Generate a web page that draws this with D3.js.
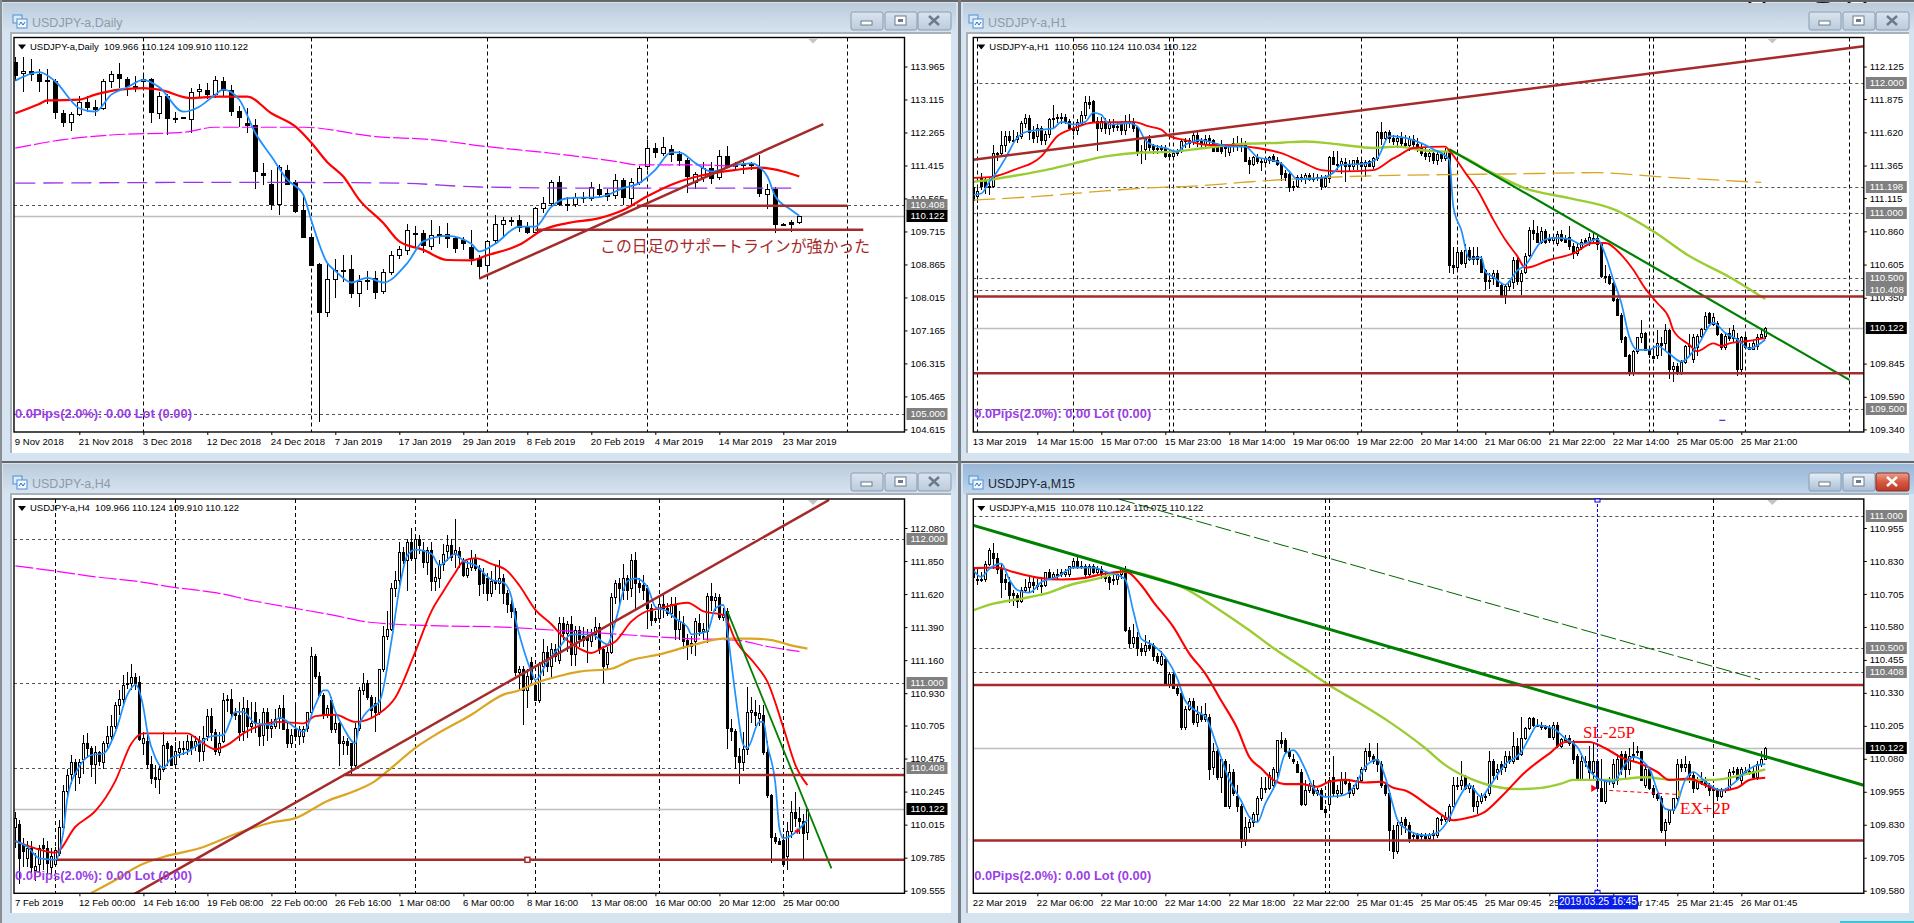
<!DOCTYPE html>
<html><head><meta charset="utf-8"><style>html,body{margin:0;padding:0;background:#d6e3f0;overflow:hidden}svg{display:block}</style>
<script src="https://cdnjs.cloudflare.com/ajax/libs/d3/7.8.5/d3.min.js"></script></head><body><svg id="c" width="1914" height="923"></svg>
<script>
const dailyBars=[[114.08,114.2,113.6,113.75],[113.8,114.2,113.3,113.85],[113.85,114.15,113.6,113.78],[113.78,113.9,113.3,113.6],[113.63,113.9,113.0,113.58],[113.6,113.65,112.62,112.78],[112.77,112.85,112.4,112.53],[112.53,112.8,112.3,112.74],[112.74,113.2,112.7,113.06],[113.06,113.2,112.8,112.93],[112.92,113.1,112.7,112.88],[112.9,113.65,112.85,113.6],[113.6,113.85,113.42,113.78],[113.78,114.05,113.42,113.68],[113.65,113.7,113.2,113.46],[113.47,113.72,113.3,113.43],[113.6,113.75,113.4,113.65],[113.64,113.66,112.5,112.78],[112.76,113.3,112.6,113.2],[113.2,113.25,112.2,112.64],[112.65,112.8,112.5,112.62],[112.67,112.67,112.66,112.66],[112.6,113.4,112.25,113.32],[113.33,113.52,113.18,113.38],[113.37,113.54,113.14,113.25],[113.25,113.72,113.15,113.62],[113.58,113.7,113.2,113.35],[113.36,113.5,112.7,112.83],[112.83,112.95,112.4,112.67],[112.5,112.9,112.25,112.47],[112.46,112.6,110.82,111.27],[111.22,111.48,110.9,111.18],[110.93,111.3,110.27,110.43],[110.43,111.42,110.13,111.37],[111.3,111.42,110.9,110.95],[111.0,111.05,110.2,110.23],[110.27,110.6,109.55,109.56],[109.57,109.6,108.85,108.86],[108.88,108.9,104.8,107.65],[107.65,108.9,107.5,108.48],[108.48,109.0,108.0,108.73],[108.73,109.1,108.4,108.72],[108.74,109.1,108.0,108.14],[108.13,108.6,107.78,108.43],[108.43,108.7,108.2,108.47],[108.52,108.7,107.98,108.16],[108.17,108.75,108.1,108.68],[108.68,109.2,108.6,109.1],[109.1,109.35,109.0,109.26],[109.25,109.9,109.1,109.76],[109.68,109.85,109.3,109.67],[109.67,109.75,109.15,109.37],[109.35,110.0,109.25,109.62],[109.62,109.85,109.4,109.65],[109.65,109.93,109.3,109.55],[109.55,109.6,109.15,109.3],[109.5,109.58,109.25,109.43],[109.32,109.74,108.85,109.03],[109.03,109.1,108.5,108.83],[108.85,109.5,108.7,109.47],[109.5,110.15,109.4,109.9],[109.9,110.1,109.6,110.0],[110.0,110.1,109.85,110.0],[110.0,110.15,109.7,109.82],[109.84,109.95,109.65,109.7],[109.7,110.35,109.67,110.32],[110.32,110.6,110.2,110.45],[110.45,111.05,110.35,110.99],[110.98,111.15,110.38,110.43],[110.43,110.6,110.23,110.42],[110.42,110.7,110.35,110.6],[110.6,110.72,110.45,110.59],[110.58,111.0,110.5,110.85],[110.82,110.95,110.6,110.68],[110.7,110.8,110.5,110.63],[110.65,111.2,110.55,111.05],[111.05,111.1,110.4,110.6],[110.58,111.1,110.4,111.0],[111.0,111.4,110.9,111.35],[111.39,112.08,111.3,111.86],[111.86,112.0,111.6,111.75],[111.73,112.15,111.65,111.89],[111.85,111.95,111.5,111.72],[111.72,111.8,111.4,111.55],[111.55,111.6,110.7,111.15],[111.0,111.25,110.8,111.2],[111.13,111.5,111.0,111.34],[111.34,111.5,110.95,111.08],[111.12,111.82,111.05,111.66],[111.66,111.92,111.4,111.41],[111.4,111.5,111.3,111.42],[111.45,111.55,111.2,111.42],[111.45,111.5,111.3,111.42],[111.38,111.69,110.6,110.7],[110.68,110.95,110.3,110.82],[110.8,110.85,109.68,109.9],[109.9,109.92,109.88,109.9],[109.95,110.0,109.7,109.9],[109.966,110.124,109.91,110.122]];
const dailyBlue=[[0,113.6],[3,113.82],[5,113.58],[8,112.89],[10,112.8],[12,113.24],[14,113.43],[16,113.62],[18,113.43],[21,112.8],[23,112.93],[25,113.24],[26,113.37],[28,113.11],[30,112.25],[32,111.65],[34,111.05],[36,110.66],[37,110.0],[39,108.9],[40,108.7],[42,108.4],[44,108.52],[46,108.4],[49,108.9],[51,109.46],[54,109.6],[57,109.4],[58,109.2],[60,109.4],[63,109.84],[65,109.84],[67,110.35],[69,110.57],[73,110.6],[76,110.83],[78,110.96],[80,111.3],[82,111.75],[83,111.75],[85,111.48],[87,111.26],[90,111.43],[92,111.47],[94,111.13],[95,110.62],[97,110.27],[98,110.12]];
const dailyRed=[[0,112.76],[3,113.0],[4,113.09],[8,113.11],[10,113.24],[13,113.37],[16,113.41],[18,113.37],[22,113.15],[25,113.19],[29,113.19],[32,112.76],[35,112.42],[37,112.0],[39,111.5],[41,111.13],[43,110.53],[46,109.93],[48,109.46],[51,109.24],[54,108.98],[57,108.97],[59,109.1],[63,109.37],[66,109.76],[69,109.93],[73,110.06],[76,110.27],[79,110.62],[82,110.92],[86,111.17],[90,111.3],[93,111.36],[96,111.26],[98,111.13]];
const dailyMagenta=[[0,111.86],[6,112.08],[12,112.2],[21,112.27],[25,112.4],[36,112.4],[45,112.16],[52,112.08],[59,111.9],[67,111.73],[75,111.52],[78,111.43],[85,111.43],[90,111.39]];
const dailyPurple=[[0,110.96],[29,110.98],[48,110.96],[58,110.86],[75,110.83],[98,110.83]];
const dailyTrend=[[58,108.5],[101,112.48]];
const dailySupport1=[[77.7,110.38],[104,110.38]];
const dailySupport2=[[65,109.76],[106,109.76]];

const h4Bars=[[110.0,110.1,109.85,110.06],[110.02,110.05,109.6,109.78],[109.88,109.92,109.72,109.83],[109.78,109.9,109.72,109.85],[109.85,109.9,109.68,109.72],[109.7,109.82,109.62,109.73],[109.74,109.87,109.68,109.85],[109.87,109.92,109.7,109.85],[109.85,109.9,109.67,109.75],[109.72,109.85,109.66,109.8],[109.74,109.86,109.72,109.84],[109.82,110.05,109.8,110.0],[110.0,110.29,109.95,110.25],[110.25,110.4,110.2,110.36],[110.37,110.5,110.3,110.45],[110.45,110.47,110.25,110.37],[110.35,110.47,110.3,110.45],[110.47,110.64,110.37,110.58],[110.58,110.65,110.48,110.55],[110.55,110.56,110.35,110.44],[110.44,110.56,110.3,110.52],[110.52,110.53,110.42,110.46],[110.45,110.6,110.4,110.58],[110.58,110.7,110.55,110.63],[110.63,110.78,110.6,110.7],[110.7,110.87,110.68,110.85],[110.85,110.95,110.78,110.89],[110.89,111.06,110.85,110.99],[111.0,111.08,110.96,111.0],[111.0,111.13,110.95,111.04],[111.04,111.07,110.95,111.0],[111.01,111.05,110.6,110.61],[110.58,110.66,110.5,110.62],[110.6,110.65,110.4,110.44],[110.44,110.49,110.3,110.34],[110.35,110.43,110.27,110.33],[110.33,110.42,110.23,110.4],[110.4,110.66,110.38,110.57],[110.58,110.6,110.42,110.55],[110.56,110.57,110.42,110.43],[110.44,110.59,110.41,110.53],[110.52,110.6,110.48,110.55],[110.55,110.6,110.5,110.54],[110.54,110.64,110.5,110.6],[110.6,110.63,110.5,110.55],[110.56,110.63,110.53,110.6],[110.6,110.63,110.45,110.53],[110.53,110.7,110.46,110.62],[110.63,110.82,110.6,110.77],[110.77,110.83,110.6,110.66],[110.66,110.68,110.5,110.53],[110.52,110.66,110.49,110.58],[110.6,110.93,110.58,110.88],[110.88,110.92,110.8,110.89],[110.89,110.96,110.76,110.79],[110.79,110.83,110.74,110.78],[110.78,110.87,110.6,110.66],[110.67,110.9,110.6,110.83],[110.83,110.88,110.62,110.7],[110.7,110.87,110.65,110.72],[110.8,110.87,110.65,110.72],[110.7,110.75,110.56,110.63],[110.64,110.83,110.56,110.8],[110.8,110.83,110.6,110.69],[110.69,110.75,110.62,110.7],[110.7,110.82,110.68,110.75],[110.76,110.85,110.68,110.83],[110.83,110.92,110.68,110.68],[110.68,110.72,110.55,110.58],[110.58,110.68,110.55,110.64],[110.68,110.86,110.6,110.63],[110.63,110.7,110.57,110.68],[110.63,110.7,110.58,110.68],[110.69,110.8,110.66,110.8],[110.8,111.25,110.78,111.19],[111.19,111.2,111.03,111.05],[111.05,111.08,110.9,110.92],[110.92,110.93,110.75,110.78],[110.78,110.85,110.76,110.83],[110.88,110.9,110.65,110.68],[110.68,110.78,110.65,110.72],[110.72,110.73,110.42,110.58],[110.58,110.63,110.5,110.6],[110.6,110.62,110.5,110.57],[110.58,110.58,110.36,110.43],[110.43,110.72,110.4,110.69],[110.69,110.97,110.67,110.95],[110.95,111.07,110.92,111.0],[111.0,111.02,110.88,110.9],[110.9,110.92,110.75,110.81],[110.86,110.9,110.66,110.8],[110.8,111.1,110.78,111.1],[111.1,111.4,111.08,111.33],[111.33,111.5,111.3,111.38],[111.38,111.7,111.36,111.66],[111.66,111.78,111.6,111.72],[111.72,111.98,111.65,111.91],[111.91,111.95,111.83,111.86],[111.86,112.0,111.64,111.98],[111.98,112.08,111.85,111.87],[111.87,112.02,111.76,112.0],[112.0,112.03,111.9,111.96],[111.93,111.98,111.8,111.84],[111.84,111.95,111.75,111.93],[111.93,111.98,111.64,111.71],[111.71,111.8,111.64,111.74],[111.73,111.86,111.66,111.83],[111.83,111.97,111.78,111.9],[111.92,112.03,111.85,111.96],[111.96,112.0,111.85,111.88],[111.9,112.14,111.8,111.93],[111.92,111.95,111.8,111.88],[111.84,111.87,111.74,111.75],[111.75,111.85,111.73,111.8],[111.81,111.93,111.78,111.87],[111.87,111.9,111.78,111.8],[111.8,111.82,111.61,111.69],[111.77,111.8,111.62,111.7],[111.73,111.77,111.57,111.63],[111.63,111.78,111.6,111.71],[111.72,111.82,111.65,111.7],[111.7,111.86,111.62,111.73],[111.73,111.76,111.55,111.63],[111.63,111.65,111.49,111.55],[111.55,111.58,111.45,111.5],[111.5,111.52,111.05,111.08],[111.08,111.12,110.95,111.1],[111.1,111.12,110.71,110.95],[110.95,111.1,110.83,111.05],[111.15,111.18,111.0,111.03],[110.99,111.02,110.88,110.88],[110.88,111.15,110.86,111.13],[111.12,111.31,111.05,111.22],[111.22,111.26,111.08,111.12],[111.12,111.28,111.03,111.24],[111.24,111.27,111.15,111.19],[111.16,111.46,111.13,111.42],[111.42,111.46,111.3,111.35],[111.35,111.43,111.22,111.41],[111.41,111.47,111.12,111.2],[111.2,111.4,111.12,111.37],[111.37,111.4,111.25,111.31],[111.33,111.39,111.25,111.3],[111.32,111.38,111.14,111.3],[111.29,111.38,111.25,111.34],[111.34,111.46,111.3,111.39],[111.39,111.42,111.2,111.24],[111.24,111.26,111.0,111.12],[111.13,111.25,111.1,111.22],[111.22,111.63,111.2,111.6],[111.6,111.72,111.55,111.7],[111.7,111.73,111.55,111.66],[111.65,111.83,111.58,111.73],[111.73,111.75,111.58,111.65],[111.66,111.9,111.6,111.86],[111.86,111.91,111.5,111.7],[111.7,111.73,111.63,111.67],[111.68,111.75,111.58,111.65],[111.66,111.68,111.38,111.52],[111.52,111.55,111.4,111.44],[111.45,111.5,111.42,111.44],[111.45,111.6,111.42,111.55],[111.55,111.62,111.45,111.52],[111.52,111.56,111.47,111.49],[111.49,111.6,111.45,111.55],[111.55,111.6,111.3,111.38],[111.38,111.5,111.3,111.43],[111.42,111.47,111.24,111.29],[111.3,111.34,111.16,111.26],[111.26,111.33,111.2,111.28],[111.29,111.45,111.19,111.43],[111.42,111.48,111.33,111.36],[111.36,111.42,111.3,111.38],[111.36,111.63,111.28,111.61],[111.61,111.7,111.5,111.58],[111.58,111.63,111.5,111.6],[111.6,111.62,111.44,111.46],[111.46,111.52,111.43,111.48],[111.5,111.52,110.54,110.69],[110.69,110.75,110.6,110.67],[110.67,110.68,110.4,110.49],[110.49,110.55,110.3,110.45],[110.45,110.66,110.39,110.54],[110.54,110.97,110.5,110.8],[110.8,110.9,110.72,110.81],[110.8,110.88,110.7,110.78],[110.76,110.85,110.7,110.79],[110.78,110.85,110.5,110.52],[110.52,110.6,110.2,110.22],[110.22,110.23,109.75,109.93],[109.93,109.96,109.88,109.9],[109.9,109.92,109.87,109.88],[109.91,109.95,109.72,109.74],[109.8,110.03,109.7,109.97],[109.97,110.18,109.92,110.1],[110.1,110.24,110.0,110.06],[110.06,110.14,109.95,110.04],[110.04,110.09,109.76,109.96],[109.966,110.124,109.91,110.122]];
const h4Blue=[[0,109.9],[3,109.86],[6,109.78],[10,109.77],[12,109.97],[13,110.2],[16,110.42],[19,110.5],[22,110.51],[25,110.66],[28,110.92],[30,110.99],[32,110.83],[33,110.66],[35,110.48],[37,110.41],[39,110.48],[43,110.52],[46,110.58],[49,110.63],[52,110.64],[55,110.8],[57,110.8],[60,110.72],[64,110.71],[66,110.76],[70,110.69],[72,110.66],[75,110.85],[77,110.95],[78,110.95],[80,110.8],[82,110.69],[85,110.58],[86,110.71],[89,110.83],[91,110.87],[94,111.29],[96,111.66],[98,111.89],[100,111.93],[104,111.9],[106,111.82],[110,111.9],[112,111.85],[115,111.82],[119,111.72],[122,111.7],[124,111.6],[125,111.45],[127,111.24],[129,111.08],[130,111.02],[133,111.15],[136,111.25],[139,111.34],[141,111.34],[144,111.34],[148,111.27],[150,111.43],[153,111.71],[155,111.73],[158,111.67],[160,111.53],[163,111.5],[165,111.45],[168,111.39],[169,111.34],[173,111.36],[175,111.52],[177,111.545],[178,111.36],[180,110.92],[182,110.57],[183,110.55],[186,110.73],[187,110.73],[188,110.57],[190,110.3],[191,109.99],[192,109.92],[195,109.96],[198,110.05]];
const h4Red=[[0,109.9],[5,109.85],[10,109.82],[15,110.0],[20,110.11],[25,110.32],[29,110.58],[32,110.65],[43,110.65],[46,110.6],[50,110.54],[53,110.57],[57,110.65],[66,110.73],[72,110.72],[75,110.77],[80,110.78],[85,110.73],[91,110.79],[95,110.9],[100,111.22],[104,111.5],[107,111.64],[110,111.77],[112,111.85],[115,111.87],[119,111.83],[123,111.78],[126,111.68],[130,111.51],[134,111.41],[137,111.32],[141,111.24],[144,111.21],[147,111.25],[150,111.29],[154,111.43],[157,111.49],[161,111.52],[168,111.56],[172,111.5],[177,111.475],[180,111.3],[185,111.13],[188,111.01],[192,110.69],[195,110.43],[198,110.29]];
const h4Gold=[[19,109.54],[25,109.63],[31,109.73],[37,109.79],[46,109.85],[56,109.96],[64,110.03],[70,110.06],[78,110.18],[85,110.25],[90,110.32],[94,110.41],[100,110.55],[105,110.64],[114,110.78],[122,110.92],[126,110.95],[130,111.0],[136,111.05],[141,111.08],[149,111.1],[154,111.16],[161,111.2],[170,111.27],[177,111.31],[184,111.31],[189,111.3],[193,111.27],[198,111.24]];
const h4Magenta=[[0,111.816],[10,111.78],[20,111.74],[30,111.71],[40,111.665],[50,111.63],[60,111.57],[70,111.52],[80,111.47],[87,111.43],[95,111.41],[104,111.4],[122,111.39],[134,111.37],[151,111.34],[168,111.31],[180,111.3],[188,111.255],[196,111.22]];
const h4Trend=[[29.6,109.53],[203.4,112.275]];
const h4Green=[[178,111.5],[204,109.71]];
const h4Support1=[[82,110.36],[230,110.36]];
const h4Support2=[[10.4,109.77],[230,109.77]];

const h1Bars=[[111.2,111.23,111.1,111.1],[111.13,111.2,111.08,111.17],[111.27,111.31,111.18,111.21],[111.26,111.28,111.15,111.2],[111.21,111.27,111.14,111.2],[111.21,111.52,111.19,111.46],[111.45,111.47,111.4,111.46],[111.46,111.63,111.43,111.52],[111.52,111.63,111.47,111.59],[111.59,111.63,111.54,111.56],[111.56,111.64,111.53,111.55],[111.57,111.62,111.54,111.59],[111.59,111.71,111.57,111.69],[111.69,111.76,111.65,111.73],[111.73,111.75,111.56,111.62],[111.62,111.67,111.54,111.58],[111.59,111.68,111.54,111.65],[111.65,111.67,111.52,111.56],[111.56,111.63,111.52,111.61],[111.61,111.73,111.58,111.72],[111.72,111.83,111.65,111.73],[111.74,111.76,111.69,111.73],[111.74,111.77,111.68,111.73],[111.74,111.76,111.68,111.71],[111.71,111.72,111.64,111.65],[111.65,111.67,111.6,111.64],[111.64,111.72,111.6,111.7],[111.69,111.78,111.67,111.75],[111.75,111.9,111.72,111.85],[111.85,111.9,111.8,111.84],[111.86,111.87,111.7,111.71],[111.71,111.74,111.48,111.65],[111.65,111.74,111.62,111.71],[111.71,111.73,111.61,111.65],[111.65,111.72,111.6,111.7],[111.68,111.72,111.62,111.66],[111.67,111.7,111.63,111.66],[111.69,111.71,111.6,111.64],[111.64,111.75,111.6,111.71],[111.71,111.76,111.65,111.69],[111.7,111.73,111.62,111.65],[111.66,111.67,111.44,111.48],[111.48,111.52,111.38,111.47],[111.49,111.58,111.41,111.57],[111.57,111.6,111.48,111.51],[111.52,111.53,111.45,111.49],[111.5,111.52,111.45,111.49],[111.5,111.52,111.46,111.49],[111.5,111.52,111.42,111.44],[111.45,111.47,111.41,111.44],[111.44,111.48,111.42,111.46],[111.47,111.49,111.44,111.47],[111.48,111.56,111.46,111.55],[111.55,111.58,111.5,111.56],[111.56,111.58,111.5,111.54],[111.55,111.63,111.52,111.6],[111.6,111.62,111.51,111.55],[111.55,111.58,111.49,111.53],[111.53,111.6,111.5,111.57],[111.58,111.6,111.53,111.56],[111.56,111.57,111.48,111.48],[111.52,111.54,111.47,111.48],[111.53,111.56,111.45,111.48],[111.51,111.53,111.43,111.5],[111.47,111.52,111.44,111.52],[111.52,111.58,111.47,111.54],[111.53,111.59,111.48,111.52],[111.52,111.58,111.47,111.54],[111.53,111.55,111.4,111.4],[111.41,111.43,111.3,111.38],[111.38,111.44,111.36,111.43],[111.43,111.45,111.38,111.4],[111.4,111.42,111.32,111.39],[111.39,111.43,111.37,111.42],[111.41,111.44,111.38,111.43],[111.44,111.45,111.39,111.4],[111.41,111.43,111.36,111.38],[111.38,111.39,111.25,111.3],[111.31,111.33,111.25,111.28],[111.3,111.32,111.16,111.2],[111.2,111.25,111.17,111.21],[111.21,111.29,111.19,111.28],[111.28,111.3,111.24,111.27],[111.27,111.31,111.22,111.29],[111.29,111.31,111.25,111.26],[111.27,111.31,111.24,111.27],[111.27,111.3,111.25,111.28],[111.27,111.29,111.18,111.21],[111.21,111.29,111.19,111.27],[111.27,111.44,111.23,111.43],[111.43,111.48,111.37,111.38],[111.38,111.48,111.33,111.37],[111.38,111.42,111.3,111.4],[111.39,111.42,111.24,111.36],[111.37,111.41,111.32,111.36],[111.36,111.41,111.33,111.41],[111.41,111.43,111.33,111.38],[111.39,111.41,111.33,111.36],[111.36,111.41,111.28,111.39],[111.4,111.41,111.35,111.36],[111.36,111.43,111.34,111.42],[111.42,111.63,111.4,111.62],[111.62,111.7,111.52,111.58],[111.58,111.63,111.55,111.62],[111.62,111.64,111.54,111.58],[111.58,111.6,111.52,111.55],[111.55,111.6,111.5,111.58],[111.58,111.62,111.5,111.54],[111.54,111.6,111.5,111.52],[111.52,111.59,111.48,111.57],[111.57,111.6,111.5,111.53],[111.53,111.58,111.47,111.51],[111.51,111.54,111.44,111.46],[111.46,111.5,111.41,111.44],[111.44,111.49,111.39,111.46],[111.46,111.49,111.38,111.41],[111.41,111.47,111.37,111.45],[111.45,111.48,111.39,111.42],[111.42,111.5,111.4,111.48],[111.48,111.49,110.54,110.6],[110.6,110.74,110.53,110.59],[110.59,110.74,110.55,110.7],[110.7,110.72,110.6,110.62],[110.62,110.76,110.58,110.72],[110.72,110.74,110.63,110.65],[110.67,110.74,110.6,110.65],[110.67,110.74,110.6,110.65],[110.65,110.67,110.54,110.55],[110.56,110.57,110.41,110.48],[110.48,110.54,110.42,110.49],[110.5,110.56,110.45,110.54],[110.54,110.56,110.43,110.44],[110.45,110.46,110.35,110.37],[110.37,110.45,110.3,110.44],[110.44,110.49,110.4,110.48],[110.47,110.66,110.42,110.64],[110.64,110.67,110.45,110.48],[110.48,110.56,110.37,110.54],[110.55,110.69,110.53,110.67],[110.68,110.89,110.66,110.87],[110.87,110.95,110.79,110.85],[110.85,110.9,110.77,110.78],[110.78,110.89,110.76,110.86],[110.86,110.88,110.76,110.78],[110.8,110.84,110.77,110.8],[110.79,110.83,110.78,110.82],[110.77,110.86,110.75,110.84],[110.84,110.87,110.78,110.79],[110.81,110.83,110.77,110.78],[110.82,110.9,110.72,110.75],[110.75,110.77,110.65,110.69],[110.69,110.77,110.67,110.74],[110.74,110.8,110.72,110.78],[110.79,110.81,110.76,110.78],[110.78,110.85,110.75,110.82],[110.81,110.85,110.78,110.8],[110.81,110.83,110.72,110.76],[110.76,110.77,110.5,110.52],[110.52,110.6,110.46,110.51],[110.52,110.53,110.45,110.46],[110.46,110.47,110.32,110.33],[110.34,110.35,110.22,110.22],[110.22,110.23,110.0,110.03],[110.05,110.06,109.9,109.9],[109.91,109.92,109.75,109.77],[109.77,109.95,109.75,109.94],[109.94,110.05,109.92,110.05],[110.05,110.18,110.0,110.08],[110.08,110.09,109.95,109.95],[109.96,109.97,109.89,109.92],[109.9,109.98,109.88,109.89],[109.91,110.1,109.88,110.0],[110.0,110.05,109.9,109.99],[110.0,110.15,109.95,110.1],[110.1,110.11,109.73,109.8],[109.8,109.86,109.7,109.83],[109.83,109.85,109.76,109.78],[109.78,109.87,109.76,109.86],[109.86,109.99,109.84,109.98],[109.98,110.07,109.9,109.99],[109.88,110.07,109.85,110.05],[109.97,110.07,109.9,110.06],[110.06,110.12,110.04,110.11],[110.11,110.24,110.09,110.21],[110.23,110.24,110.15,110.16],[110.15,110.23,110.13,110.2],[110.16,110.17,110.06,110.07],[110.07,110.08,109.95,109.97],[109.97,110.07,109.95,110.06],[110.08,110.12,110.02,110.04],[110.04,110.14,110.0,110.1],[110.04,110.08,109.75,109.8],[109.8,110.06,109.76,110.05],[110.05,110.08,109.97,109.97],[109.97,110.0,109.95,109.96],[109.96,110.02,109.95,110.0],[109.98,110.07,109.95,110.05],[110.05,110.12,110.03,110.07],[110.056,110.124,110.034,110.122]];
const h1Blue=[[0,111.14],[2,111.15],[4,111.24],[6,111.32],[8,111.42],[11,111.58],[14,111.63],[17,111.64],[20,111.65],[22,111.7],[25,111.68],[28,111.7],[30,111.77],[32,111.755],[34,111.68],[39,111.69],[41,111.665],[43,111.56],[45,111.52],[48,111.5],[51,111.47],[53,111.525],[57,111.56],[60,111.54],[64,111.51],[68,111.51],[71,111.43],[74,111.41],[77,111.38],[79,111.32],[81,111.26],[87,111.27],[90,111.31],[92,111.37],[98,111.38],[101,111.42],[104,111.59],[110,111.56],[115,111.49],[119,111.41],[120,111.05],[122,110.87],[124,110.65],[127,110.66],[128,110.55],[130,110.51],[133,110.45],[136,110.56],[138,110.6],[142,110.78],[145,110.81],[149,110.8],[152,110.76],[156,110.8],[158,110.68],[160,110.49],[162,110.31],[164,110.05],[166,109.95],[169,109.95],[171,109.98],[174,109.92],[177,109.86],[181,109.98],[185,110.16],[188,110.08],[191,110.03],[194,109.96],[198,110.03]];
const h1Red=[[0,111.27],[5,111.28],[10,111.33],[17,111.435],[21,111.59],[25,111.65],[30,111.695],[40,111.7],[44,111.665],[47,111.64],[49,111.59],[53,111.56],[58,111.525],[65,111.52],[71,111.5],[77,111.46],[83,111.38],[87,111.33],[92,111.32],[100,111.33],[105,111.42],[106,111.435],[110,111.5],[118,111.51],[119,111.48],[123,111.31],[126,111.18],[130,110.95],[133,110.795],[136,110.67],[138,110.58],[144,110.64],[150,110.69],[155,110.77],[158,110.77],[162,110.68],[165,110.565],[168,110.42],[171,110.31],[174,110.19],[175,110.1],[179,109.99],[181,109.94],[185,110.0],[187,109.98],[189,110.0],[194,110.02],[198,110.04]];
const h1Lime=[[0,111.24],[5,111.26],[11,111.29],[18,111.33],[25,111.38],[33,111.435],[42,111.465],[49,111.47],[58,111.5],[67,111.53],[77,111.54],[83,111.55],[92,111.525],[100,111.5],[106,111.51],[113,111.48],[119,111.47],[129,111.32],[138,111.19],[149,111.115],[160,111.03],[170,110.86],[179,110.67],[189,110.51],[198,110.34]];
const h1Gold=[[0,111.1],[17,111.13],[33,111.17],[48,111.2],[54,111.205],[67,111.235],[79,111.26],[105,111.29],[118,111.295],[133,111.3],[156,111.31],[171,111.28],[197,111.235]];
const h1Trend=[[0,111.41],[222.6,112.28]];
const h1Green=[[119,111.49],[219,109.72]];
const h1Support1=[[0,110.36],[222.6,110.36]];
const h1Support2=[[0,109.77],[222.6,109.77]];

const m15Bars=[[110.8,110.82,110.76,110.77],[110.76,110.8,110.74,110.76],[110.76,110.79,110.75,110.76],[110.76,110.83,110.75,110.82],[110.82,110.88,110.81,110.87],[110.86,110.9,110.8,110.84],[110.84,110.86,110.78,110.8],[110.8,110.82,110.69,110.75],[110.76,110.78,110.72,110.75],[110.75,110.77,110.67,110.7],[110.71,110.72,110.66,110.7],[110.7,110.71,110.65,110.68],[110.68,110.73,110.67,110.72],[110.72,110.76,110.71,110.73],[110.73,110.77,110.71,110.75],[110.75,110.77,110.71,110.74],[110.74,110.76,110.72,110.74],[110.74,110.76,110.71,110.74],[110.74,110.79,110.73,110.79],[110.79,110.8,110.76,110.77],[110.77,110.79,110.76,110.78],[110.78,110.8,110.76,110.78],[110.79,110.8,110.77,110.78],[110.78,110.8,110.77,110.79],[110.78,110.81,110.77,110.81],[110.81,110.84,110.8,110.83],[110.83,110.85,110.8,110.81],[110.81,110.83,110.8,110.81],[110.81,110.82,110.77,110.78],[110.78,110.82,110.77,110.81],[110.81,110.82,110.78,110.79],[110.79,110.81,110.78,110.8],[110.8,110.81,110.76,110.78],[110.77,110.79,110.75,110.77],[110.77,110.78,110.72,110.75],[110.76,110.78,110.74,110.76],[110.76,110.79,110.74,110.78],[110.78,110.8,110.76,110.8],[110.8,110.81,110.56,110.57],[110.57,110.58,110.5,110.52],[110.52,110.59,110.5,110.54],[110.54,110.56,110.47,110.5],[110.5,110.52,110.47,110.49],[110.49,110.55,110.47,110.51],[110.51,110.53,110.49,110.5],[110.51,110.52,110.45,110.47],[110.47,110.48,110.44,110.45],[110.44,110.49,110.43,110.47],[110.46,110.47,110.36,110.36],[110.36,110.41,110.35,110.4],[110.4,110.41,110.35,110.35],[110.35,110.36,110.32,110.33],[110.33,110.34,110.19,110.2],[110.2,110.28,110.19,110.27],[110.27,110.31,110.26,110.3],[110.3,110.31,110.21,110.22],[110.22,110.28,110.2,110.25],[110.25,110.28,110.22,110.23],[110.23,110.29,110.22,110.25],[110.24,110.25,110.0,110.04],[110.05,110.14,110.02,110.11],[110.11,110.12,110.0,110.01],[110.01,110.08,109.95,110.08],[110.07,110.08,109.9,109.9],[109.9,110.06,109.89,110.03],[110.03,110.04,109.94,109.95],[109.94,109.98,109.88,109.9],[109.9,109.91,109.74,109.77],[109.77,109.86,109.75,109.82],[109.82,109.85,109.8,109.84],[109.84,109.88,109.82,109.87],[109.87,109.94,109.84,109.93],[109.93,110.01,109.92,109.97],[109.97,110.01,109.95,109.97],[109.97,110.03,109.96,110.02],[109.98,110.05,109.96,110.04],[110.03,110.15,110.0,110.15],[110.15,110.18,110.12,110.14],[110.15,110.16,110.1,110.11],[110.11,110.12,110.08,110.09],[110.08,110.1,110.06,110.07],[110.06,110.07,110.03,110.03],[110.03,110.04,109.9,109.91],[109.91,110.0,109.9,109.96],[109.96,109.99,109.95,109.98],[109.98,110.0,109.94,109.95],[109.95,109.97,109.94,109.96],[109.96,109.97,109.89,109.89],[109.89,109.9,109.87,109.88],[109.91,110.01,109.89,110.0],[110.01,110.09,109.94,109.95],[109.95,109.98,109.93,109.96],[109.95,110.03,109.94,110.0],[110.0,110.03,109.98,109.99],[109.99,110.0,109.93,109.95],[109.95,109.98,109.94,109.97],[109.97,110.01,109.96,110.0],[110.0,110.05,109.99,110.04],[110.04,110.12,110.03,110.11],[110.11,110.14,110.07,110.09],[110.09,110.1,110.06,110.07],[110.08,110.14,110.03,110.06],[110.06,110.07,109.97,109.98],[109.98,109.99,109.94,109.95],[109.95,109.96,109.73,109.81],[109.81,109.83,109.7,109.73],[109.73,109.84,109.72,109.83],[109.83,109.86,109.79,109.84],[109.85,109.86,109.8,109.83],[109.83,109.84,109.76,109.78],[109.79,109.8,109.77,109.79],[109.79,109.8,109.77,109.78],[109.79,109.8,109.77,109.79],[109.79,109.8,109.77,109.78],[109.78,109.8,109.77,109.79],[109.8,109.81,109.77,109.79],[109.79,109.86,109.78,109.855],[109.85,109.87,109.83,109.85],[109.85,109.88,109.84,109.86],[109.85,109.91,109.84,109.9],[109.9,110.01,109.89,109.98],[109.98,110.01,109.96,109.98],[109.98,110.07,109.96,110.0],[110.01,110.02,109.96,109.97],[109.97,109.99,109.95,109.98],[109.97,109.98,109.88,109.9],[109.9,109.94,109.87,109.92],[109.92,109.95,109.91,109.94],[109.94,109.95,109.92,109.94],[109.95,110.11,109.94,110.07],[110.07,110.08,110.0,110.02],[110.03,110.06,110.0,110.04],[110.06,110.07,110.02,110.04],[110.05,110.11,110.03,110.09],[110.09,110.11,110.06,110.07],[110.07,110.18,110.06,110.13],[110.13,110.16,110.08,110.08],[110.1,110.24,110.09,110.16],[110.16,110.2,110.15,110.195],[110.195,110.24,110.19,110.236],[110.236,110.24,110.2,110.21],[110.21,110.23,110.2,110.21],[110.21,110.22,110.19,110.2],[110.2,110.21,110.19,110.2],[110.2,110.21,110.16,110.163],[110.163,110.22,110.15,110.21],[110.21,110.22,110.12,110.13],[110.13,110.16,110.12,110.155],[110.15,110.17,110.14,110.16],[110.16,110.17,110.13,110.14],[110.14,110.15,110.06,110.08],[110.09,110.1,110.0,110.005],[110.005,110.09,110.0,110.07],[110.07,110.09,110.05,110.07],[110.07,110.13,110.0,110.03],[110.03,110.14,110.0,110.07],[110.07,110.08,109.96,109.97],[109.97,110.08,109.92,109.92],[109.92,110.0,109.91,109.995],[109.995,110.01,109.98,110.0],[109.99,110.08,109.97,110.06],[110.0,110.1,109.98,110.08],[110.1,110.11,110.02,110.04],[110.1,110.11,110.0,110.04],[110.04,110.12,110.02,110.09],[110.1,110.145,110.07,110.09],[110.11,110.13,110.09,110.11],[110.11,110.11,110.0,110.0],[109.98,110.05,109.97,110.04],[110.04,110.05,109.96,109.97],[109.97,109.98,109.93,109.945],[109.945,109.95,109.92,109.93],[109.93,109.94,109.8,109.81],[109.81,109.85,109.75,109.84],[109.84,109.89,109.83,109.885],[109.885,109.93,109.87,109.93],[109.93,110.08,109.92,110.06],[110.06,110.08,110.03,110.05],[110.05,110.09,110.03,110.06],[110.06,110.07,109.99,110.02],[110.02,110.03,109.95,109.97],[109.97,110.01,109.96,110.0],[110.0,110.03,109.98,109.99],[110.0,110.01,109.97,109.985],[109.98,109.99,109.94,109.96],[109.97,109.98,109.87,109.96],[109.96,109.97,109.92,109.94],[109.94,109.97,109.93,109.96],[109.96,109.97,109.95,109.965],[109.965,110.04,109.96,110.03],[110.03,110.05,110.02,110.035],[110.04,110.05,110.0,110.005],[110.0,110.05,109.98,110.04],[110.035,110.05,110.02,110.035],[110.035,110.06,110.02,110.03],[110.035,110.05,110.0,110.01],[110.01,110.07,110.0,110.06],[110.06,110.11,110.05,110.08],[110.078,110.124,110.075,110.122]];
const m15Blue=[[0,110.795],[2,110.77],[4,110.8],[7,110.82],[9,110.76],[11,110.72],[14,110.71],[17,110.75],[21,110.77],[25,110.805],[30,110.805],[33,110.79],[37,110.77],[38,110.76],[40,110.64],[42,110.535],[45,110.51],[48,110.466],[51,110.384],[53,110.3],[57,110.25],[58,110.24],[61,110.125],[64,110.0],[67,109.92],[69,109.86],[71,109.84],[73,109.91],[76,110.0],[78,110.1],[80,110.113],[83,110.04],[85,109.97],[88,109.936],[92,109.94],[95,109.97],[98,110.05],[101,110.077],[103,110.01],[105,109.9],[106,109.85],[108,109.816],[113,109.79],[116,109.8],[119,109.855],[121,109.92],[124,109.98],[127,109.936],[129,109.974],[133,110.06],[137,110.106],[139,110.16],[141,110.207],[145,110.195],[148,110.157],[151,110.125],[154,110.037],[157,110.0],[160,109.993],[163,110.06],[165,110.087],[169,110.043],[171,109.96],[173,109.89],[175,109.885],[178,110.0],[180,110.03],[183,109.993],[187,109.96],[190,109.986],[193,110.03],[196,110.056],[198,110.06]];
const m15Red=[[0,110.803],[6,110.805],[10,110.788],[16,110.767],[22,110.76],[28,110.766],[32,110.78],[38,110.79],[42,110.738],[45,110.675],[50,110.58],[54,110.479],[58,110.403],[62,110.3],[66,110.195],[69,110.087],[72,110.043],[75,110.0],[78,109.984],[82,109.984],[86,109.974],[89,109.993],[93,110.0],[98,109.99],[102,109.993],[105,109.97],[108,109.96],[115,109.89],[120,109.847],[123,109.854],[128,109.88],[132,109.936],[138,110.03],[144,110.1],[148,110.144],[154,110.144],[158,110.12],[162,110.085],[167,110.06],[171,110.03],[174,110.0],[179,110.005],[183,109.98],[187,109.96],[191,109.97],[194,110.0],[198,110.008]];
const m15Lime=[[0,110.643],[5,110.668],[12,110.687],[18,110.706],[24,110.738],[31,110.763],[38,110.79],[45,110.77],[53,110.725],[61,110.65],[69,110.567],[75,110.5],[83,110.42],[89,110.359],[96,110.296],[104,110.22],[113,110.12],[118,110.056],[125,110.0],[130,109.976],[136,109.965],[142,109.97],[147,109.986],[150,110.0],[159,110.0],[168,110.01],[175,110.0],[185,110.0],[192,110.018],[198,110.04]];
const m15Channel=[[36.5,111.064],[196.7,110.38]];
const m15Green=[[0,110.965],[222.6,109.98]];
const m15Support1=[[0,110.36],[222.6,110.36]];
const m15Support2=[[0,109.77],[222.6,109.77]];
const m15Pending=[[159,109.96],[176,109.945]];

const dailyTicks=[113.965,113.115,112.265,111.415,110.565,109.715,108.865,108.015,107.165,106.315,105.465,104.615];
const h4Ticks=[112.08,111.85,111.62,111.39,111.16,110.93,110.705,110.475,110.245,110.015,109.785,109.555];
const h1Ticks=[112.125,111.875,111.62,111.365,111.115,110.86,110.605,110.35,109.845,109.59,109.34];
const m15Ticks=[110.955,110.83,110.705,110.58,110.455,110.33,110.205,110.08,109.955,109.83,109.705,109.58];
const dailyDates=["9 Nov 2018","21 Nov 2018","3 Dec 2018","12 Dec 2018","24 Dec 2018","7 Jan 2019","17 Jan 2019","29 Jan 2019","8 Feb 2019","20 Feb 2019","4 Mar 2019","14 Mar 2019","23 Mar 2019"];
const h4Dates=["7 Feb 2019","12 Feb 00:00","14 Feb 16:00","19 Feb 08:00","22 Feb 00:00","26 Feb 16:00","1 Mar 08:00","6 Mar 00:00","8 Mar 16:00","13 Mar 08:00","16 Mar 00:00","20 Mar 12:00","25 Mar 00:00"];
const h1Dates=["13 Mar 2019","14 Mar 15:00","15 Mar 07:00","15 Mar 23:00","18 Mar 14:00","19 Mar 06:00","19 Mar 22:00","20 Mar 14:00","21 Mar 06:00","21 Mar 22:00","22 Mar 14:00","25 Mar 05:00","25 Mar 21:00"];
const m15Dates=["22 Mar 2019","22 Mar 06:00","22 Mar 10:00","22 Mar 14:00","22 Mar 18:00","22 Mar 22:00","25 Mar 01:45","25 Mar 05:45","25 Mar 09:45","25 Mar 13:45","25 Mar 17:45","25 Mar 21:45","26 Mar 01:45"];
const dailySeps=[16,37,59,79,104];
const h4Seps=[10,40,70,100,130,161,192];
const h1Seps=[1,25,49,50,73,97,121,145,169,170,193,219];
const m15Seps=[88,89,185];
const dailyLevels=[110.408,105.0];
const h4Levels=[112.0,111.0,110.408];
const h1Levels=[112.0,111.198,111.0,110.5,110.408,109.5];
const m15Levels=[111.0,110.5,110.408];
const bidPrice=110.122;

const svg=d3.select("#c");
const FONT="'Liberation Sans',Arial,sans-serif";
const defs=svg.append("defs");
function grad(id,stops){const g=defs.append("linearGradient").attr("id",id).attr("x1",0).attr("y1",0).attr("x2",0).attr("y2",1);stops.forEach(s=>g.append("stop").attr("offset",s[0]).attr("stop-color",s[1]));}
grad("tInactive",[[0,"#bccbd9"],[0.5,"#c9d8e6"],[1,"#d7e4f1"]]);
grad("tActive",[[0,"#9db8d6"],[0.5,"#aac5e2"],[1,"#c2d7ec"]]);
grad("btn",[[0,"#d9e4ef"],[1,"#bccbdb"]]);
grad("btnA",[[0,"#e6eef6"],[1,"#a9bfd6"]]);
grad("btnX",[[0,"#eaa08e"],[0.5,"#d8573f"],[1,"#b93a28"]]);

svg.append("rect").attr("width",1914).attr("height",923).attr("fill","#d6e3f0");
[[1757,-1,9],[1823,-4,13],[1857,-1,10]].forEach(c=>svg.append("ellipse").attr("cx",c[0]).attr("cy",c[1]).attr("rx",c[2]).attr("ry",6).attr("fill","#fff").attr("stroke","#111").attr("stroke-width",2));

function windowFrame(o){
  const g=svg.append("g");
  g.append("rect").attr("x",o.x).attr("y",o.y).attr("width",o.w).attr("height",30).attr("fill",o.active?"url(#tActive)":"url(#tInactive)");
  g.append("rect").attr("x",o.cx-2).attr("y",o.cy-2).attr("width",o.cw+2).attr("height",o.ch+2).attr("fill","#a7b2bd");
  g.append("rect").attr("x",o.cx).attr("y",o.cy).attr("width",o.cw).attr("height",o.ch).attr("fill","#fff");
  const ix=o.cx+1,iy=o.y+12;
  g.append("rect").attr("x",ix).attr("y",iy).attr("width",9).attr("height",8).attr("fill","#dbe9fa").attr("stroke","#4a8fd6");
  g.append("rect").attr("x",ix+4).attr("y",iy+4).attr("width",10).attr("height",9).attr("fill","#f2f7fd").attr("stroke","#4a8fd6");
  g.append("path").attr("d",`M${ix+6} ${iy+10}l2 -3l2 3l2 -3`).attr("fill","none").attr("stroke","#2a6fb6");
  g.append("text").attr("x",ix+19).attr("y",iy+9).attr("dominant-baseline","middle").attr("font-family",FONT).attr("font-size",12.5).attr("fill",o.active?"#1b2733":"#8f9aa5").text(o.title);
  const by=o.y+9,bx=o.cx+o.cw;
  [-100,-66,-33].forEach((d,k)=>{
    const x=bx+d;
    const close=k==2&&o.active;
    g.append("rect").attr("x",x).attr("y",by).attr("width",k==2?33:32).attr("height",18).attr("rx",2).attr("fill",close?"url(#btnX)":o.active?"url(#btnA)":"url(#btn)").attr("stroke",close?"#8a3020":"#8b9cae");
    if(k==0)g.append("rect").attr("x",x+10).attr("y",by+9).attr("width",11).attr("height",4).attr("fill","#fff").attr("stroke","#6b7b8b");
    if(k==1){g.append("rect").attr("x",x+10).attr("y",by+4).attr("width",11).attr("height",9).attr("fill","#fff").attr("stroke","#6b7b8b");g.append("rect").attr("x",x+13).attr("y",by+7).attr("width",5).attr("height",3).attr("fill","#6b7b8b");}
    if(k==2)g.append("path").attr("d",`M${x+11} ${by+4}l10 9M${x+21} ${by+4}l-10 9`).attr("stroke",close?"#fff":"#6b7b8b").attr("stroke-width",2.4);
  });
}
const frames=[
 {x:3,y:3,w:953,cx:12,cy:34,cw:939,ch:419,title:"USDJPY-a,Daily"},
 {x:963,y:3,w:951,cx:968,cy:34,cw:941,ch:419,title:"USDJPY-a,H1"},
 {x:3,y:464,w:953,cx:12,cy:495,cw:939,ch:418,title:"USDJPY-a,H4"},
 {x:963,y:464,w:951,cx:968,cy:495,cw:941,ch:418,title:"USDJPY-a,M15",active:true}];
frames.forEach(windowFrame);
svg.append("rect").attr("x",0).attr("y",0).attr("width",1914).attr("height",2).attr("fill","#666");
svg.append("rect").attr("x",0).attr("y",461).attr("width",1914).attr("height",2).attr("fill","#666");
svg.append("rect").attr("x",0).attr("y",0).attr("width",2).attr("height",923).attr("fill","#8a8f94");
svg.append("rect").attr("x",958).attr("y",0).attr("width",3).attr("height",923).attr("fill","#777d84");
svg.append("rect").attr("x",1840).attr("y",921).attr("width",74).attr("height",2).attr("fill","#35c8d8");

function panel(p){
  const L=p.left,R=L+890.5,T=p.top,B=p.bottom;
  const g=svg.append("g");
  const id="clip"+p.name;
  defs.append("clipPath").attr("id",id).append("rect").attr("x",L).attr("y",T).attr("width",R-L).attr("height",B-T);
  const x=d3.scaleLinear().domain([0,1]).range([p.x0,p.x0+p.step]);
  const y=d3.scaleLinear().domain([p.ticks[0],p.ticks[p.ticks.length-1]]).range([T+29,B-2.6]);
  const py=v=>Math.round(y(v))+.5;
  g.append("rect").attr("x",L).attr("y",T).attr("width",R-L).attr("height",B-T).attr("fill","#fff");
  const plot=g.append("g").attr("clip-path",`url(#${id})`);
  const stroke=(s,c,w,d)=>s.attr("fill","none").attr("stroke",c).attr("stroke-width",w).attr("stroke-dasharray",d||null);
  plot.selectAll(".sep").data(p.seps).join("line").attr("x1",d=>Math.round(x(d))+.5).attr("x2",d=>Math.round(x(d))+.5).attr("y1",T).attr("y2",B).call(stroke,"#000",1,"4,3");
  plot.selectAll(".lvl").data(p.levels).join("line").attr("x1",L).attr("x2",R).attr("y1",py).attr("y2",py).call(stroke,"#555",1,"3,3");
  plot.append("line").attr("x1",L).attr("x2",R).attr("y1",py(bidPrice)).attr("y2",py(bidPrice)).call(stroke,"#bdbdbd",1.3);
  const cg=plot.append("g").attr("shape-rendering","crispEdges");
  cg.selectAll("line").data(p.bars).join("line").attr("x1",(d,i)=>Math.round(x(i))+.5).attr("x2",(d,i)=>Math.round(x(i))+.5).attr("y1",d=>Math.round(y(d[1]))).attr("y2",d=>Math.round(y(d[2]))).attr("stroke","#000").attr("stroke-width",1);
  cg.selectAll("rect").data(p.bars).join("rect").attr("x",(d,i)=>Math.round(x(i))+.5-p.bw/2).attr("width",p.bw)
    .attr("y",d=>py(Math.max(d[0],d[3]))).attr("height",d=>Math.max(1,Math.abs(py(d[0])-py(d[3]))))
    .attr("fill",d=>d[3]>=d[0]?"#fff":"#000").attr("stroke","#000").attr("stroke-width",1);
  const line=d3.line().x(d=>x(d[0])).y(d=>y(d[1])).curve(d3.curveMonotoneX);
  const straight=d3.line().x(d=>x(d[0])).y(d=>y(d[1]));
  p.series.forEach(s=>plot.append("path").attr("d",(s.straight?straight:line)(s.data)).call(stroke,s.color,s.w,s.dash));
  if(p.extra)p.extra(plot,x,y);
  g.append("rect").attr("x",L).attr("y",T).attr("width",R-L).attr("height",B-T).attr("fill","none").attr("stroke","#000").attr("stroke-width",1.4);
  g.append("path").attr("d",`M${L+794} ${T+1}h10l-5 5z`).attr("fill","#c4c4c4");
  const ya=d3.axisRight(y).tickValues(p.ticks).tickSize(3).tickFormat(d3.format(".3f"));
  const yg=g.append("g").attr("transform",`translate(${R},0)`).call(ya);
  yg.select(".domain").remove();
  yg.selectAll("text").attr("x",6).attr("font-family",FONT).attr("font-size",9.6).attr("fill","#000");
  const xa=d3.axisBottom(x).tickValues(p.dates.map((d,i)=>i*p.per)).tickSize(3).tickFormat((d,i)=>p.dates[i]);
  const xg=g.append("g").attr("transform",`translate(0,${B})`).call(xa);
  xg.select(".domain").remove();
  xg.selectAll("text").attr("text-anchor","start").attr("x",-1).attr("y",6).attr("font-family",FONT).attr("font-size",9.6).attr("fill","#000");
  xg.selectAll(".tick").filter((d,i)=>i==0).select("line").remove();
  const box=(v,bg,fg)=>{
    const yy=Math.round(y(v));
    g.append("rect").attr("x",R+2).attr("y",yy-6).attr("width",41).attr("height",12).attr("fill",bg);
    g.append("text").attr("x",R+6).attr("y",yy).attr("dominant-baseline","middle").attr("font-family",FONT).attr("font-size",9.6).attr("fill",fg).text(v.toFixed(3));
  };
  p.levels.forEach(v=>box(v,"#808080","#fff"));
  box(bidPrice,"#000","#fff");
  g.append("path").attr("d",`M${L+4} ${T+7}h8l-4 5z`).attr("fill","#000");
  g.append("text").attr("x",L+16).attr("y",T+9.5).attr("dominant-baseline","middle").attr("font-family",FONT).attr("font-size",9.5).attr("fill","#000").attr("xml:space","preserve").text(p.header);
  g.append("text").attr("x",L+1).attr("y",T+(B-T)-17).attr("dominant-baseline","middle").attr("font-family",FONT).attr("font-size",12.9).attr("font-weight","bold").attr("fill","#9a3fe6").text("0.0Pips(2.0%): 0.00 Lot (0.00)");
  if(p.over)p.over(g,x,y,T,B);
}
const BROWN="#a52a2a",RED="#ff0000",BLUE="#1e90ff",LIME="#9acd32",GOLD="#daa520",GREEN="#008000",MAG="#ff00ff",PUR="#9932ee";
panel({name:"D",left:14,top:37.5,bottom:432,x0:15.3,step:8,bw:4,per:8,ticks:dailyTicks,dates:dailyDates,seps:dailySeps,levels:dailyLevels,bars:dailyBars,
 header:"USDJPY-a,Daily  109.966 110.124 109.910 110.122",
 series:[{data:dailyMagenta,color:MAG,w:1.2,dash:"16,3"},{data:dailyPurple,color:PUR,w:1.3,dash:"20,8"},{data:dailyRed,color:RED,w:2.2},{data:dailyBlue,color:BLUE,w:1.8},
 {data:dailyTrend,color:BROWN,w:2.5,straight:true},{data:dailySupport1,color:BROWN,w:2.5,straight:true},{data:dailySupport2,color:BROWN,w:2.5,straight:true}],
 over(g){g.append("text").attr("x",600).attr("y",248).attr("dominant-baseline","middle").attr("font-family","'Noto Sans CJK JP'").attr("font-size",15.9).attr("fill",BROWN).text("この日足のサポートラインが強かった");}});
panel({name:"H1",left:973.3,top:37.5,bottom:432,x0:973.3,step:4,bw:2,per:16,ticks:h1Ticks,dates:h1Dates,seps:h1Seps,levels:h1Levels,bars:h1Bars,
 header:"USDJPY-a,H1  110.056 110.124 110.034 110.122",
 series:[{data:h1Gold,color:GOLD,w:1.3,dash:"22,7"},{data:h1Lime,color:LIME,w:2.4},{data:h1Red,color:RED,w:1.9},{data:h1Blue,color:BLUE,w:1.7},
 {data:h1Trend,color:BROWN,w:2.5,straight:true},{data:h1Green,color:GREEN,w:2.2,straight:true},{data:h1Support1,color:BROWN,w:2.5,straight:true},{data:h1Support2,color:BROWN,w:2.5,straight:true}],
 extra(pl,x,y){pl.append("line").attr("x1",x(186.5)).attr("x2",x(188)).attr("y1",y(109.41)).attr("y2",y(109.41)).attr("stroke","#0000e0").attr("stroke-width",1);}});
panel({name:"H4",left:14,top:499,bottom:893.3,x0:15.4,step:4,bw:2,per:16,ticks:h4Ticks,dates:h4Dates,seps:h4Seps,levels:h4Levels,bars:h4Bars,
 header:"USDJPY-a,H4  109.966 110.124 109.910 110.122",
 series:[{data:h4Magenta,color:MAG,w:1.2,dash:"18,3"},{data:h4Gold,color:GOLD,w:2.2},{data:h4Red,color:RED,w:1.9},{data:h4Blue,color:BLUE,w:1.7},
 {data:h4Trend,color:BROWN,w:2.5,straight:true},{data:h4Green,color:GREEN,w:1.8,straight:true},{data:h4Support1,color:BROWN,w:2.5,straight:true},{data:h4Support2,color:BROWN,w:2.5,straight:true}],
 extra(pl,x,y){pl.append("rect").attr("x",x(128)-2.5).attr("y",y(109.77)-2.5).attr("width",5).attr("height",5).attr("fill","#fff").attr("stroke",BROWN).attr("stroke-width",1.5);
  pl.append("path").attr("d",d3.symbol(d3.symbolCross,16)()).attr("transform",`translate(${x(195.5)},${y(109.97)})`).attr("fill",RED);}});
panel({name:"M15",left:973.3,top:499,bottom:893.3,x0:973.3,step:4,bw:2,per:16,ticks:m15Ticks,dates:m15Dates,seps:m15Seps,levels:m15Levels,bars:m15Bars,
 header:"USDJPY-a,M15  110.078 110.124 110.075 110.122",
 series:[{data:m15Lime,color:LIME,w:2.4},{data:m15Red,color:RED,w:2.1},{data:m15Blue,color:BLUE,w:1.7},
 {data:m15Channel,color:"#006400",w:1,dash:"16,4",straight:true},{data:m15Green,color:GREEN,w:3,straight:true},{data:m15Support1,color:BROWN,w:2.5,straight:true},{data:m15Support2,color:BROWN,w:2.5,straight:true},
 {data:m15Pending,color:RED,w:1,dash:"4,3",straight:true}],
 extra(pl,x,y){
  pl.append("line").attr("x1",Math.round(x(156))+.5).attr("x2",Math.round(x(156))+.5).attr("y1",499).attr("y2",893).attr("stroke","#0000e6").attr("stroke-width",1).attr("stroke-dasharray","3,2");
  pl.append("path").attr("d",d3.symbol(d3.symbolTriangle,22)()).attr("transform",`translate(${x(155)},${y(109.968)}) rotate(90)`).attr("fill",RED);
  pl.append("rect").attr("x",x(176.2)).attr("y",y(109.96)).attr("width",2).attr("height",6).attr("fill",GOLD);
 },
 over(g,x,y,T,B){
  g.append("rect").attr("x",Math.round(x(156))-2).attr("y",T).attr("width",5).attr("height",3).attr("fill","#fff").attr("stroke","#0000e6");
  g.append("rect").attr("x",Math.round(x(156))-2).attr("y",B-3).attr("width",5).attr("height",3).attr("fill","#fff").attr("stroke","#0000e6");
  g.append("rect").attr("x",1558).attr("y",B+2).attr("width",80).attr("height",14).attr("fill","#0a1eea");
  g.append("text").attr("x",1598).attr("y",B+9.5).attr("text-anchor","middle").attr("dominant-baseline","middle").attr("font-family",FONT).attr("font-size",10).attr("fill","#fff").text("2019.03.25 16:45");
  g.append("text").attr("x",1583).attr("y",734).attr("dominant-baseline","middle").attr("font-family","'Liberation Serif'").attr("font-size",17).attr("fill",RED).text("SL-25P");
  g.append("text").attr("x",1680).attr("y",810).attr("dominant-baseline","middle").attr("font-family","'Liberation Serif'").attr("font-size",17).attr("fill",RED).text("EX+2P");
 }});
</script></body></html>
